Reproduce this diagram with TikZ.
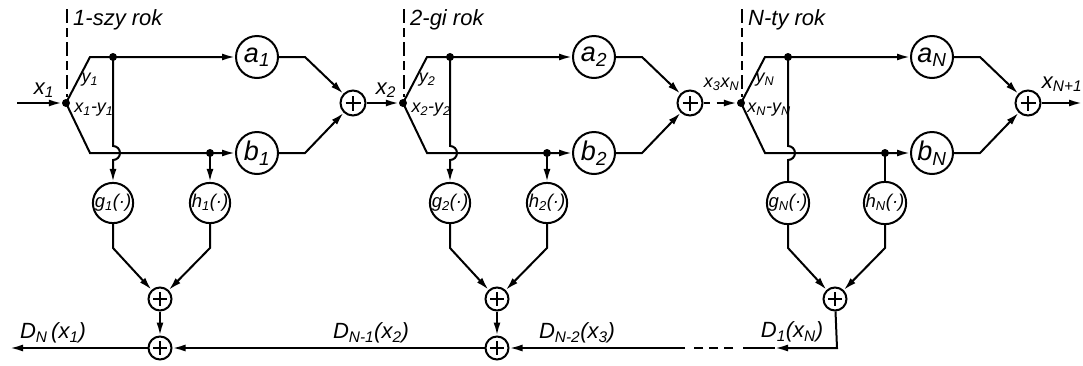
\documentclass[tikz,border=0pt]{standalone}
\usepackage{fontspec}
\setmainfont{Liberation Sans}
\usetikzlibrary{arrows.meta}
\newcommand\fsz[1]{\fontsize{#1}{#1}\selectfont\itshape}
\newcommand\sbs[1]{\textsubscript{#1}}
\tikzset{
  x=1pt, y=1pt,
  ln/.style={line width=2pt},
  arr/.style={ln, -{Latex[length=13pt,width=7pt]}},
  plain/.style={ln},
  big/.style={circle, draw, ln, minimum size=42pt, inner sep=0pt, font=\fsz{27}},
  fn/.style={circle, draw, ln, minimum size=40pt, inner sep=0pt, font=\fsz{18.5}},
  sumn/.style={circle, draw, ln, minimum size=#1, inner sep=0pt,
    path picture={\draw[line width=1.8pt]
      ([xshift=-0.3*#1]path picture bounding box.center) -- ([xshift=0.3*#1]path picture bounding box.center)
      ([yshift=-0.3*#1]path picture bounding box.center) -- ([yshift=0.3*#1]path picture bounding box.center);}},
  dot/.style={circle, fill, inner sep=0pt, minimum size=8pt},
  lab/.style={font=\fsz{22}, inner sep=0pt},
  slab/.style={font=\fsz{18}, inner sep=0pt},
  divider/.style={line width=1.6pt, dash pattern=on 14pt off 5pt on 9pt off 5pt}
}
\begin{document}
\begin{tikzpicture}
\useasboundingbox (0,0) rectangle (1083,-365);
\foreach \o/\i/\t/\yr in {0/1/arr/1-szy rok, 337/2/arr/2-gi rok, 675/N/plain/N-ty rok}{
  \node[dot] (s\i) at (\o+66,-103) {};
  \coordinate (u\i) at (\o+90,-57);
  \coordinate (l\i) at (\o+90,-153);
  \node[dot] (du\i) at (\o+113,-57) {};
  \node[dot] (dl\i) at (\o+210,-153) {};
  \node[big] (a\i) at (\o+257,-57) {a\sbs{\i}};
  \node[big] (b\i) at (\o+257,-153) {b\sbs{\i}};
  \coordinate (ru\i) at (\o+305,-57);
  \coordinate (rl\i) at (\o+305,-153);
  \node[sumn=25pt] (p\i) at (\o+353,-103) {};
  \node[fn] (g\i) at (\o+113,-203) {g\sbs{\i}(·)};
  \node[fn] (h\i) at (\o+210,-203) {h\sbs{\i}(·)};
  \node[sumn=23pt] (q\i) at (\o+160,-299) {};
  \coordinate (gk\i) at (\o+113,-248);
  \coordinate (hk\i) at (\o+210,-248);
  \draw[divider] (\o+67,-9) -- (\o+67,-97);
  \node[lab, anchor=west] (yr\i) at (\o+73,-20) {\yr};
  \node[slab] (yl\i) at (\o+90,-80) {y\sbs{\i}};
  \node[slab] (xyl\i) at (\o+94,-110) {x\sbs{\i}-y\sbs{\i}};
  \draw[arr] (s\i.center) -- (u\i) -- (a\i);
  \draw[arr] (s\i.center) -- (l\i) -- (b\i);
  \draw[arr] (a\i) -- (ru\i) -- (p\i);
  \draw[arr] (b\i) -- (rl\i) -- (p\i);
  \draw[\t] (du\i.center) -- (\o+113,-146) arc[start angle=90, end angle=-90, radius=7pt] -- (g\i);
  \draw[\t] (dl\i.center) -- (h\i);
  \draw[arr] (g\i) -- (gk\i) -- (q\i);
  \draw[arr] (h\i) -- (hk\i) -- (q\i);
}
% top chain
\coordinate (in) at (17,-103);
\coordinate (outR) at (1082,-103);
\draw[arr] (in) -- (s1);
\draw[arr] (p1) -- (s2);
\draw[arr, dash pattern=on 6pt off 7pt on 60pt] (p2) -- (sN);
\draw[arr] (pN) -- (outR);
\node[lab] (x1) at (44,-90) {x\sbs{1}};
\node[lab] (x2) at (386,-90) {x\sbs{2}};
\node[slab] (x3) at (712,-84) {x\sbs{3}};
\node[slab] (xN) at (730,-84) {x\sbs{N}};
\node[lab] (xN1) at (1062,-84) {x\sbs{N+1}};
% bottom chain
\node[sumn=23pt] (B1) at (160,-348) {};
\node[sumn=23pt] (B2) at (497,-348) {};
\coordinate (outL) at (10,-348);
\coordinate (cN) at (837,-348);
\coordinate (mN) at (775,-348);
\draw[arr] (q1) -- (B1);
\draw[arr] (q2) -- (B2);
\draw[arr] (B1) -- (outL);
\draw[arr] (B2) -- (B1);
\draw[arr] (qN) -- (cN) -- (mN);
\draw[arr, dash pattern=on 32pt off 10pt on 9pt off 6pt on 9pt off 6pt on 9pt off 9pt on 300pt] (mN) -- (B2);
\node[lab] (D1) at (53,-333) {D\sbs{N}\,(x\sbs{1})};
\node[lab] (D2) at (371,-333) {D\sbs{N-1}(x\sbs{2})};
\node[lab] (D3) at (577,-333) {D\sbs{N-2}(x\sbs{3})};
\node[lab] (D4) at (792,-332) {D\sbs{1}(x\sbs{N})};
\end{tikzpicture}
\end{document}
